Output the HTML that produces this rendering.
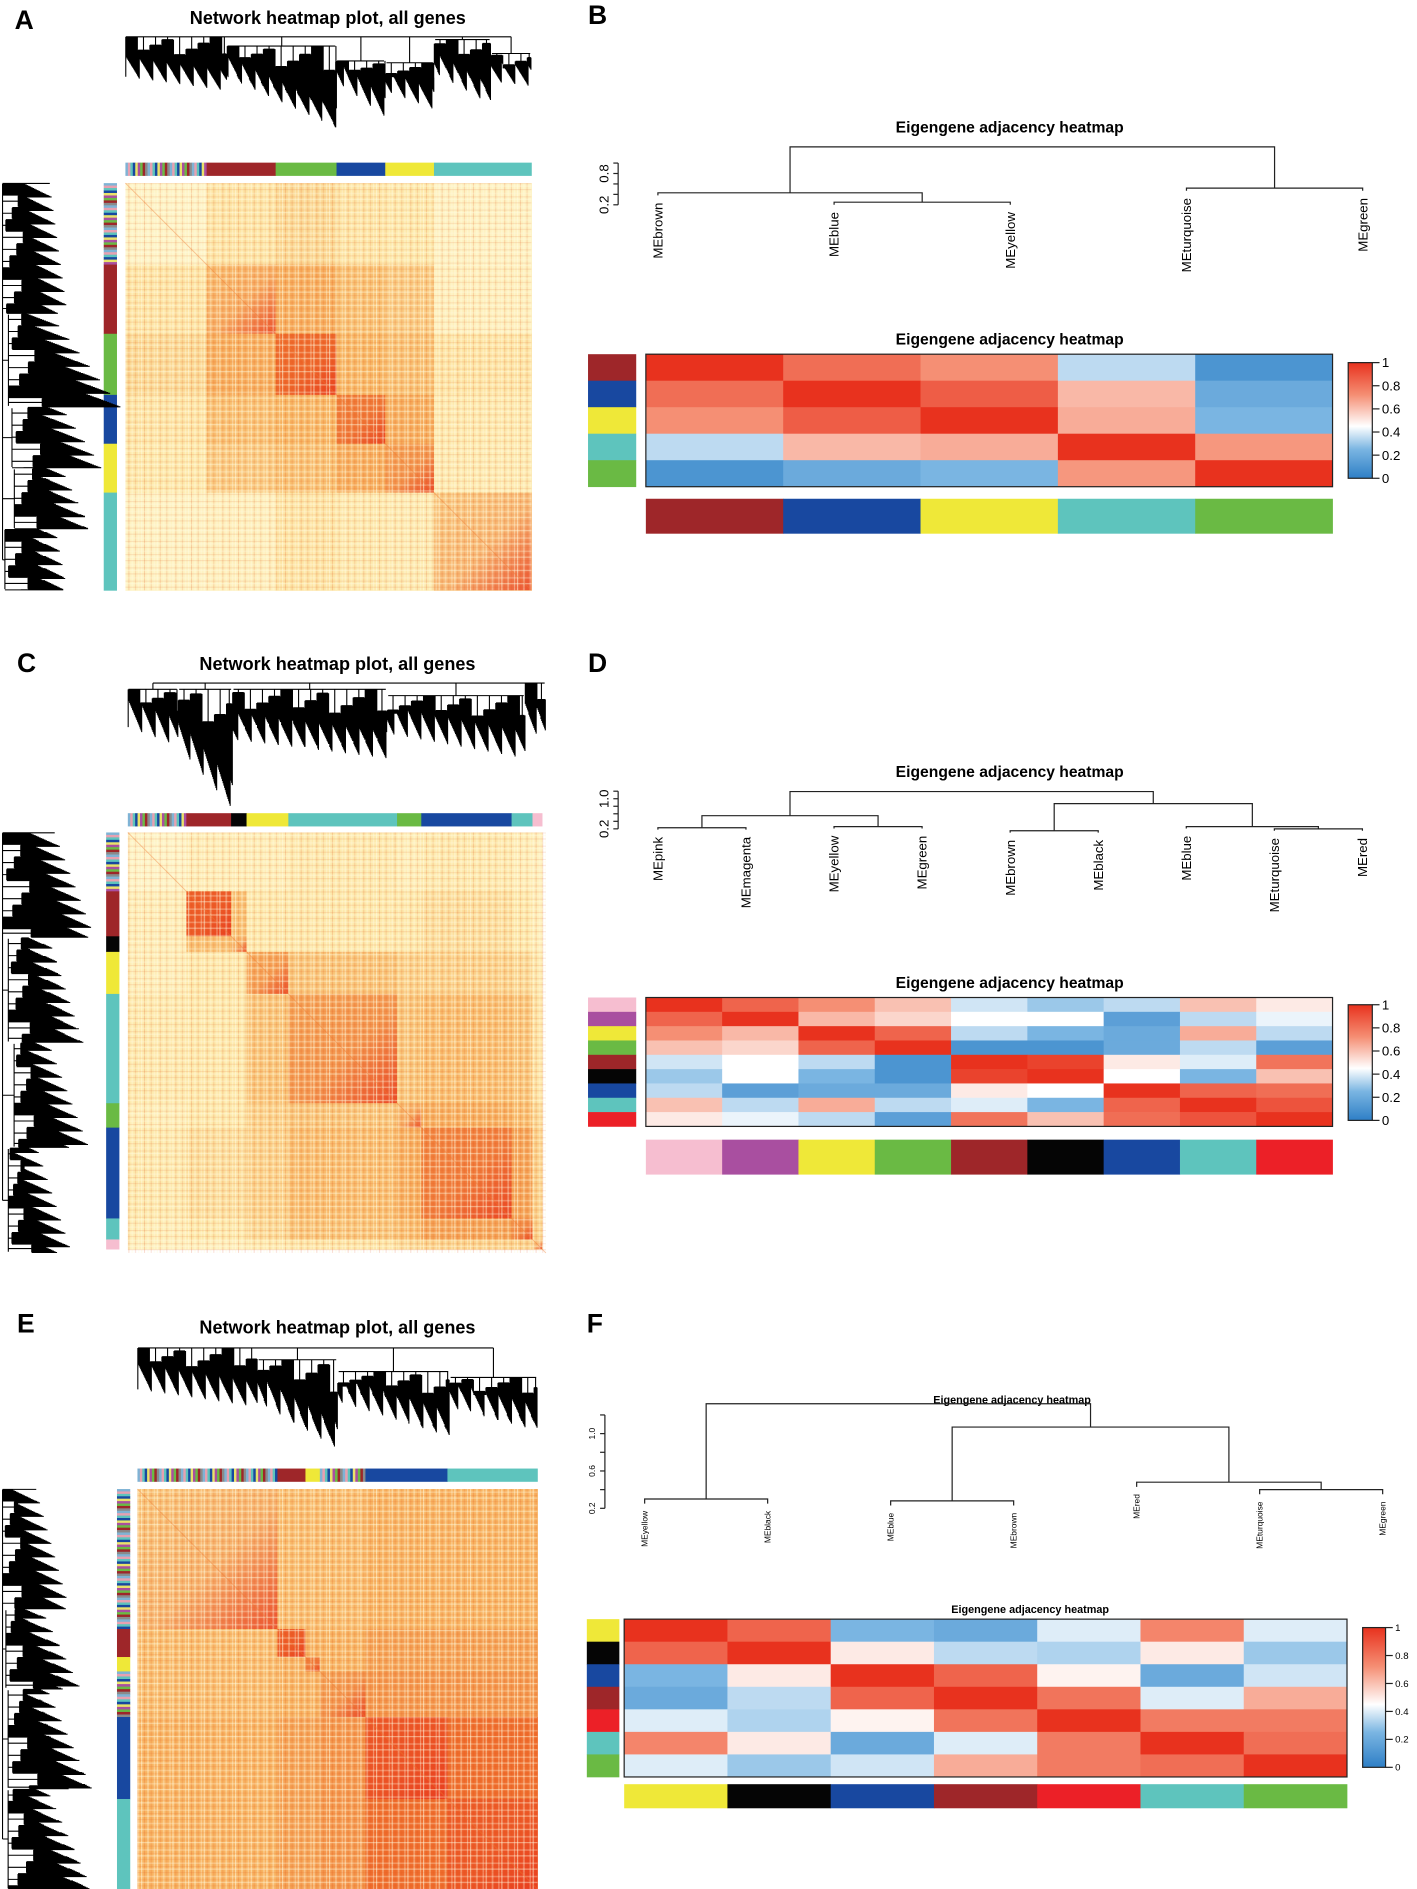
<!DOCTYPE html>
<html><head><meta charset="utf-8">
<style>
html,body{margin:0;padding:0;background:#fff;}
svg{display:block;font-family:"Liberation Sans",sans-serif;}
</style></head>
<body>
<svg id="fig" xmlns="http://www.w3.org/2000/svg" width="1417" height="1889" viewBox="0 0 1176 1568">
<defs>
<linearGradient id="diagGrad" x1="0" y1="0" x2="1" y2="1">
<stop offset="0" stop-color="#e9341c" stop-opacity="0"/>
<stop offset="0.55" stop-color="#e9341c" stop-opacity="0.12"/>
<stop offset="1" stop-color="#e9341c" stop-opacity="0.8"/>
</linearGradient>
<linearGradient id="legGrad" x1="0" y1="1" x2="0" y2="0">
<stop offset="0" stop-color="#2e7fc6"/>
<stop offset="0.25" stop-color="#7ab5e2"/>
<stop offset="0.45" stop-color="#ffffff"/>
<stop offset="0.72" stop-color="#f58f74"/>
<stop offset="1" stop-color="#e8321e"/>
</linearGradient>
<pattern id="stripesV" width="13" height="10" patternUnits="userSpaceOnUse">
<rect x="0" y="0" width="1" height="10" fill="#fffbe0" opacity="0.55"/>
<rect x="2.5" y="0" width="0.8" height="10" fill="#e0501a" opacity="0.22"/>
<rect x="5" y="0" width="1.5" height="10" fill="#fffbe0" opacity="0.35"/>
<rect x="8" y="0" width="0.8" height="10" fill="#e0501a" opacity="0.18"/>
<rect x="10.5" y="0" width="1" height="10" fill="#fffbe0" opacity="0.4"/>
</pattern>
<pattern id="stripesH" width="10" height="11" patternUnits="userSpaceOnUse">
<rect x="0" y="0" width="10" height="1" fill="#fffbe0" opacity="0.45"/>
<rect x="0" y="3" width="10" height="0.8" fill="#e0501a" opacity="0.16"/>
<rect x="0" y="6" width="10" height="1.3" fill="#fffbe0" opacity="0.3"/>
<rect x="0" y="9" width="10" height="0.8" fill="#e0501a" opacity="0.14"/>
</pattern>
</defs>

<text x="12" y="24" font-size="22" font-weight="bold">A</text>
<text x="272" y="20" font-size="15" font-weight="bold" text-anchor="middle">Network heatmap plot, all genes</text>
<text x="488" y="20" font-size="22" font-weight="bold">B</text>
<text x="14" y="558" font-size="22" font-weight="bold">C</text>
<text x="280" y="556" font-size="15" font-weight="bold" text-anchor="middle">Network heatmap plot, all genes</text>
<text x="488" y="558" font-size="22" font-weight="bold">D</text>
<text x="14" y="1106" font-size="22" font-weight="bold">E</text>
<text x="280" y="1107" font-size="15" font-weight="bold" text-anchor="middle">Network heatmap plot, all genes</text>
<text x="487" y="1106" font-size="22" font-weight="bold">F</text>
</svg>

<script>
const NS = 'http://www.w3.org/2000/svg';
const fig = document.getElementById('fig');
function mk(tag, attrs, parent){
  const e = document.createElementNS(NS, tag);
  for (const k in attrs) e.setAttribute(k, attrs[k]);
  (parent || fig).appendChild(e);
  return e;
}

const MOD = {brown:'#9e2629', blue:'#1848a0', yellow:'#efe838', turquoise:'#5ec4bd', green:'#6aba44', pink:'#f6bed0', magenta:'#a94fa0', black:'#050505', red:'#ec2027'};
const mixColors = ['#7fb3d5','#e9e36a','#8a8a8a','#1848a0','#9e2629','#5ec4bd','#6aba44','#e8a0b0','#a94fa0'];

// ---------- data: network heatmaps ----------
const aModules = ['mixed','brown','green','blue','yellow','turquoise'];
const aSizes = [0.20,0.17,0.15,0.12,0.12,0.24];
const aAdj = [
 [.12,.32,.38,.32,.30,.15],
 [.32,.52,.58,.50,.45,.18],
 [.38,.58,.80,.55,.50,.32],
 [.32,.50,.55,.74,.58,.28],
 [.30,.45,.50,.58,.62,.26],
 [.15,.18,.32,.28,.26,.45]];

const cModules = ['mixed','brown','black','yellow','turquoise','green','blue','turquoise','pink'];
const cSizes = [0.14,0.107,0.037,0.10,0.26,0.058,0.216,0.05,0.023];
const cAdj = [
 [.12,.22,.22,.22,.28,.22,.28,.22,.18],
 [.22,.85,.50,.30,.30,.30,.35,.30,.20],
 [.22,.50,.50,.30,.30,.30,.35,.30,.20],
 [.22,.30,.30,.58,.48,.42,.42,.38,.28],
 [.28,.30,.30,.48,.62,.48,.52,.48,.32],
 [.22,.30,.30,.42,.48,.52,.58,.52,.38],
 [.28,.35,.35,.42,.52,.58,.72,.62,.42],
 [.22,.30,.30,.38,.48,.52,.62,.66,.42],
 [.18,.20,.20,.28,.32,.38,.42,.42,.42]];

const eModules = ['mixed','brown','yellow','mixed','blue','turquoise'];
const eSizes = [0.35,0.07,0.036,0.114,0.205,0.225];
const eAdj = [
 [.48,.52,.52,.52,.56,.56],
 [.52,.85,.56,.56,.62,.62],
 [.52,.56,.72,.56,.62,.62],
 [.52,.56,.56,.62,.66,.66],
 [.56,.62,.62,.66,.88,.80],
 [.56,.62,.62,.66,.80,.86]];

// ---------- data: eigengene heatmaps ----------
const bNames = ['brown','blue','yellow','turquoise','green'];
const bVals = [
 [1,.82,.72,.35,.10],
 [.82,1,.87,.62,.20],
 [.72,.87,1,.65,.25],
 [.35,.62,.65,1,.70],
 [.10,.20,.25,.70,1]];
const dNames = ['pink','magenta','yellow','green','brown','black','blue','turquoise','red'];
const dVals = [
 [1,.85,.72,.60,.38,.30,.35,.60,.50],
 [.85,1,.62,.55,.45,.45,.15,.35,.42],
 [.72,.62,1,.85,.35,.25,.20,.65,.35],
 [.60,.55,.85,1,.10,.10,.20,.35,.15],
 [.38,.45,.35,.10,1,.95,.50,.40,.80],
 [.30,.45,.25,.10,.95,1,.45,.25,.60],
 [.35,.15,.20,.20,.50,.45,1,.85,.82],
 [.60,.35,.65,.35,.40,.25,.85,1,.90],
 [.50,.42,.35,.15,.80,.60,.82,.90,1]];
const fNames = ['yellow','black','blue','brown','red','turquoise','green'];
const fVals = [
 [1,.85,.25,.20,.40,.75,.40],
 [.85,1,.50,.35,.33,.50,.30],
 [.25,.50,1,.85,.48,.20,.38],
 [.20,.35,.85,1,.80,.40,.65],
 [.40,.33,.48,.80,1,.78,.78],
 [.75,.50,.20,.40,.78,1,.82],
 [.40,.30,.38,.65,.78,.82,1]];

// ---------- data: eigengene dendrograms (merge heights) ----------
const bMerges = [[1,2,0.25],[0,5,0.43],[3,4,0.52],[6,7,1.31]];
const dMerges = [[0,1,0.23],[2,3,0.26],[9,10,0.55],[4,5,0.15],[7,8,0.20],[6,13,0.26],[12,14,0.87],[11,15,1.19]];
const fMerges = [[0,1,0.30],[2,3,0.28],[5,6,0.40],[4,9,0.48],[8,10,1.07],[7,11,1.32]];

// ---------- colour scales ----------
function lerp(a,b,t){return a+(b-a)*t;}
function hex(c){return [parseInt(c.slice(1,3),16),parseInt(c.slice(3,5),16),parseInt(c.slice(5,7),16)];}
function scale(stops, v){
  v=Math.max(0,Math.min(1,v));
  for(let i=1;i<stops.length;i++){
    if(v<=stops[i][0]){
      const t=(v-stops[i-1][0])/(stops[i][0]-stops[i-1][0]);
      const a=hex(stops[i-1][1]), b=hex(stops[i][1]);
      return 'rgb('+[0,1,2].map(k=>Math.round(lerp(a[k],b[k],t))).join(',')+')';
    }
  }
  return stops[stops.length-1][1];
}
const heatStops=[[0,'#fffbd8'],[0.3,'#fde9ab'],[0.55,'#f8b663'],[0.8,'#ef6d2c'],[1,'#e9341c']];
const brStops=[[0,'#2e7fc6'],[0.25,'#7ab5e2'],[0.45,'#ffffff'],[0.72,'#f58f74'],[1,'#e8321e']];

function colorBar(x,y,w,h,mods,sizes,vertical,name){
  const g=mk('g',{});
  
  
  let off=0;
  mods.forEach((m,i)=>{
    const len=sizes[i]*(vertical?h:w);
    if(m==='mixed'){
      const n=Math.max(1,Math.floor(len/2));
      for(let k=0;k<n;k++){
        const c=mixColors[(k*7+i*3)%mixColors.length];
        const seg = vertical? mk('rect',{x:x,y:y+off+k*len/n,width:w,height:len/n+0.3,fill:c},g) : mk('rect',{x:x+off+k*len/n,y:y,width:len/n+0.3,height:h,fill:c},g);
        
        
      }
    } else {
      const r = vertical? mk('rect',{x:x,y:y+off,width:w,height:len+0.3,fill:MOD[m]},g) : mk('rect',{x:x+off,y:y,width:len+0.3,height:h,fill:MOD[m]},g);
      
      
    }
    off+=len;
  });
}
function netHeat(x,y,w,h,mods,sizes,adj,name){
  const g=mk('g',{});
  
  
  let oy=0;
  sizes.forEach((sy,i)=>{
    let ox=0;
    sizes.forEach((sx,j)=>{
      const c=mk('rect',{x:x+ox*w,y:y+oy*h,width:sx*w+0.4,height:sy*h+0.4,fill:scale(heatStops,adj[i][j])},g);
      
      
      if(i===j && adj[i][j]>0.4){
        const d=mk('rect',{x:x+ox*w,y:y+oy*h,width:sx*w,height:sy*h,fill:'url(#diagGrad)'},g);
        
        
      }
      ox+=sx;
    });
    oy+=sy;
  });
  const t1=mk('rect',{x:x,y:y,width:w,height:h,fill:'url(#stripesV)'},g);
  
  
  const t2=mk('rect',{x:x,y:y,width:w,height:h,fill:'url(#stripesH)'},g);
  
  
  const dl=mk('line',{x1:x,y1:y,x2:x+w,y2:y+h,stroke:'#ef7a30','stroke-width':0.8,opacity:0.4},g);
  
  
}
// gene dendrogram silhouettes: [f0,f1,top,botStart,botEnd]
function geneDendro(x,y,w,h,clusters,vertical,name){
  const g=mk('g',{stroke:'#000','stroke-width':0.9,fill:'none'});
  
  
  let d='';
  const L = vertical? h : w, D = vertical? w : h;
  const rootTop=Math.min(...clusters.map(c=>c[2]))*D;
  clusters.forEach((c,ci)=>{
    const a=c[0]*L, b=c[1]*L, top=c[2]*D;
    const mid=(a+b)/2;
    if(vertical) d+='M'+(x+rootTop)+' '+(y+mid)+'H'+(x+top)+'M'+(x+top)+' '+(y+a+1)+'V'+(y+b-1);
    else d+='M'+(x+mid)+' '+(y+rootTop)+'V'+(y+top)+'M'+(x+a+1)+' '+(y+top)+'H'+(x+b-1);
    const subLen=10;
    for(let s=a; s<b; s+=subLen){
      const sb=Math.min(b,s+subLen);
      const t0=(s-a)/Math.max(1,(b-a));
      const bot0=lerp(c[3],c[4],t0)*D;
      const sTop=top+(((Math.floor(s)*53+ci*7)%7)/7)*0.45*(bot0-top);
      if(vertical) d+='M'+(x+top)+' '+(y+(s+sb)/2)+'H'+(x+sTop)+'M'+(x+sTop)+' '+(y+s+0.5)+'V'+(y+sb-0.5);
      else d+='M'+(x+(s+sb)/2)+' '+(y+top)+'V'+(y+sTop)+'M'+(x+s+0.5)+' '+(y+sTop)+'H'+(x+sb-0.5);
      for(let p=s+0.3;p<sb;p+=0.6){
        const t=(p-a)/Math.max(1,(b-a));
        let bot=lerp(c[3],c[4],t)*D;
        const k=Math.floor(p*1.7);
        bot -= ((k*37+ci*11)%19)/19*0.22*D;
        if(bot<sTop+3) bot=sTop+3;
        if(vertical) d+='M'+(x+sTop)+' '+(y+p)+'H'+(x+bot);
        else d+='M'+(x+p)+' '+(y+sTop)+'V'+(y+bot);
      }
    }
  });
  const c0=clusters[0], cN=clusters[clusters.length-1];
  const m0=(c0[0]+c0[1])/2*L, mN=(cN[0]+cN[1])/2*L;
  if(vertical) d+='M'+(x+rootTop)+' '+(y+m0)+'V'+(y+mN);
  else d+='M'+(x+m0)+' '+(y+rootTop)+'H'+(x+mN);
  const p=mk('path',{d:d},g);
  
  
}

// Panel A
geneDendro(104,29,337,77,[[0,.25,.02,.45,.6],[.25,.52,.12,.45,1],[.52,.64,.28,.5,.88],[.64,.76,.3,.6,.8],[.76,.9,.05,.4,.75],[.9,1,.2,.5,.55]],false,'panel-a-top-dendrogram');
colorBar(104,135,337,11,aModules,aSizes,false,'panel-a-top-module-bar');
colorBar(86,152,11,338,aModules,aSizes,true,'panel-a-left-module-bar');
netHeat(104,152,337,338,aModules,aSizes,aAdj,'panel-a-network-heatmap');
geneDendro(2,152,98,338,[[0,.32,0,.4,.55],[.32,.55,.05,.4,1],[.55,.7,.08,.5,.85],[.7,.85,.1,.5,.75],[.85,1,.02,.45,.55]],true,'panel-a-left-dendrogram');

// Panel C
geneDendro(106,567,347,104,[[0,.12,.05,.35,.5],[.12,.25,.05,.5,1],[.25,.62,.05,.45,.6],[.62,.95,.1,.4,.6],[.95,1,0,.35,.45]],false,'panel-c-top-dendrogram');
colorBar(106,675,347,11,cModules,cSizes,false,'panel-c-top-module-bar');
colorBar(88,691,11,349,cModules,cSizes,true,'panel-c-left-module-bar');
netHeat(106,691,347,349,cModules,cSizes,cAdj,'panel-c-network-heatmap');
geneDendro(2,691,96,349,[[0,.25,0,.45,.8],[.25,.5,.05,.4,.7],[.5,.75,.1,.4,.75],[.75,1,.05,.3,.6]],true,'panel-c-left-dendrogram');

// Panel E
geneDendro(114,1114,332,98,[[0,.3,.05,.4,.55],[.3,.5,.15,.5,.9],[.5,.78,.25,.5,.8],[.78,1,.3,.55,.75]],false,'panel-e-top-dendrogram');
colorBar(114,1219,332,11,eModules,eSizes,false,'panel-e-top-module-bar');
colorBar(97,1236,11,332,eModules,eSizes,true,'panel-e-left-module-bar');
netHeat(114,1236,332,332,eModules,eSizes,eAdj,'panel-e-network-heatmap');
geneDendro(2,1236,93,332,[[0,.3,0,.3,.6],[.3,.5,.03,.35,.7],[.5,.75,.05,.4,.8],[.75,1,.05,.4,.8]],true,'panel-e-left-dendrogram');

// ---------- eigengene dendrogram ----------
function eigDendro(names,merges,leafX,yOf,ticks,axisX,fs,titleY,titleFs,cx,name){
  const g=mk('g',{});
  
  
  const tt=mk('text',{x:cx,y:titleY,'font-size':titleFs,'font-weight':'bold','text-anchor':'middle'},g);
  tt.textContent='Eigengene adjacency heatmap';
  
  
  const nodes=names.map((nm,i)=>({x:leafX(i),h:null}));
  const drop=yOf(0)-yOf(0.05);
  let d='';
  merges.forEach(m=>{
    const a=nodes[m[0]], b=nodes[m[1]], y=yOf(m[2]);
    const ya = a.h===null? y+drop : yOf(a.h);
    const yb = b.h===null? y+drop : yOf(b.h);
    d+='M'+a.x+' '+ya+'V'+y+'H'+b.x+'V'+yb;
    nodes.push({x:(a.x+b.x)/2,h:m[2]});
  });
  const p=mk('path',{d:d,stroke:'#222','stroke-width':1,fill:'none'},g);
  
  
  names.forEach((nm,i)=>{
    let hMerge=0; merges.forEach(m=>{ if(m[0]===i||m[1]===i) hMerge=m[2]; });
    const yl=yOf(hMerge)+drop+6;
    const t=mk('text',{x:leafX(i)+fs*0.35,y:yl,'font-size':fs,'text-anchor':'end',transform:'rotate(-90 '+(leafX(i)+fs*0.35)+' '+yl+')'},g);
    t.textContent='ME'+nm;
    
    
  });
  const tv=ticks.map(Number);
  const ax=mk('line',{x1:axisX,y1:yOf(Math.min(...tv)),x2:axisX,y2:yOf(Math.max(...tv)+0.2),stroke:'#222','stroke-width':1},g);
  
  
  for(let v=Math.min(...tv); v<=Math.max(...tv)+0.21; v+=0.2){
    const tk=mk('line',{x1:axisX-4,y1:yOf(v),x2:axisX,y2:yOf(v),stroke:'#222','stroke-width':1},g);
    
    
  }
  ticks.forEach(tl=>{
    const yy=yOf(Number(tl)), xx=axisX-8;
    const t=mk('text',{x:xx,y:yy,'font-size':fs,'text-anchor':'middle',transform:'rotate(-90 '+xx+' '+yy+')'},g);
    t.textContent=tl;
    
    
  });
}
const bTicks=['0.2','0.8'];
eigDendro(bNames,bMerges,i=>546+i*146.25,v=>170-(v-0.2)*43.3,bTicks,513,11,110,13,838,'panel-b-dendrogram');
const dTicks=['0.2','1.0'];
eigDendro(dNames,dMerges,i=>546+i*73.1,v=>688-(v-0.2)*31.25,dTicks,513,11,645,13,838,'panel-d-dendrogram');
const fTicks=['0.2','0.6','1.0'];
eigDendro(fNames,fMerges,i=>535+i*102.1,v=>1252-(v-0.2)*77.5,fTicks,502,7,1165,9,840,'panel-f-dendrogram');

// ---------- eigengene heatmap ----------
function eigHeat(names,vals,x,y,w,h,leftX,leftW,botY,botH,legX,legY,legW,legH,titleX,titleY,titleFs,fs,name){
  const g=mk('g',{});
  
  
  const tt=mk('text',{x:titleX,y:titleY,'font-size':titleFs,'font-weight':'bold','text-anchor':'middle'},g);
  tt.textContent='Eigengene adjacency heatmap';
  
  
  const n=names.length, cw=w/n, ch=h/n;
  vals.forEach((row,i)=>row.forEach((v,j)=>{
    const c=mk('rect',{x:x+j*cw,y:y+i*ch,width:cw+0.3,height:ch+0.3,fill:scale(brStops,v)},g);
    
    
  }));
  const fr=mk('rect',{x:x,y:y,width:w,height:h,fill:'none',stroke:'#222','stroke-width':1},g);
  
  
  names.forEach((nm,i)=>{
    const l=mk('rect',{x:leftX,y:y+i*ch,width:leftW,height:ch+0.3,fill:MOD[nm]},g);
    
    
    const b=mk('rect',{x:x+i*cw,y:botY,width:cw+0.3,height:botH,fill:MOD[nm]},g);
    
    
  });
  const lg=mk('rect',{x:legX,y:legY,width:legW,height:legH,fill:'url(#legGrad)',stroke:'#222','stroke-width':1},g);
  
  
  ['0','0.2','0.4','0.6','0.8','1'].forEach(tl=>{
    const yy=legY+legH-Number(tl)*legH;
    const tk=mk('line',{x1:legX+legW,y1:yy,x2:legX+legW+6,y2:yy,stroke:'#222','stroke-width':1},g);
    
    
    const t=mk('text',{x:legX+legW+8,y:yy+fs*0.35,'font-size':fs},g);
    t.textContent=tl;
    
    
  });
}
eigHeat(bNames,bVals,536,294,570,110,488,40,414,29,1119,301,20,96,838,286,13,11,'panel-b-heatmap');
eigHeat(dNames,dVals,536,828,570,107,488,40,946,29,1119,834,20,96,838,820,13,11,'panel-d-heatmap');
eigHeat(fNames,fVals,518,1344,600,131,487,27,1481,20,1131,1351,19,116,855,1339,9,8,'panel-f-heatmap');
</script>
</body></html>
